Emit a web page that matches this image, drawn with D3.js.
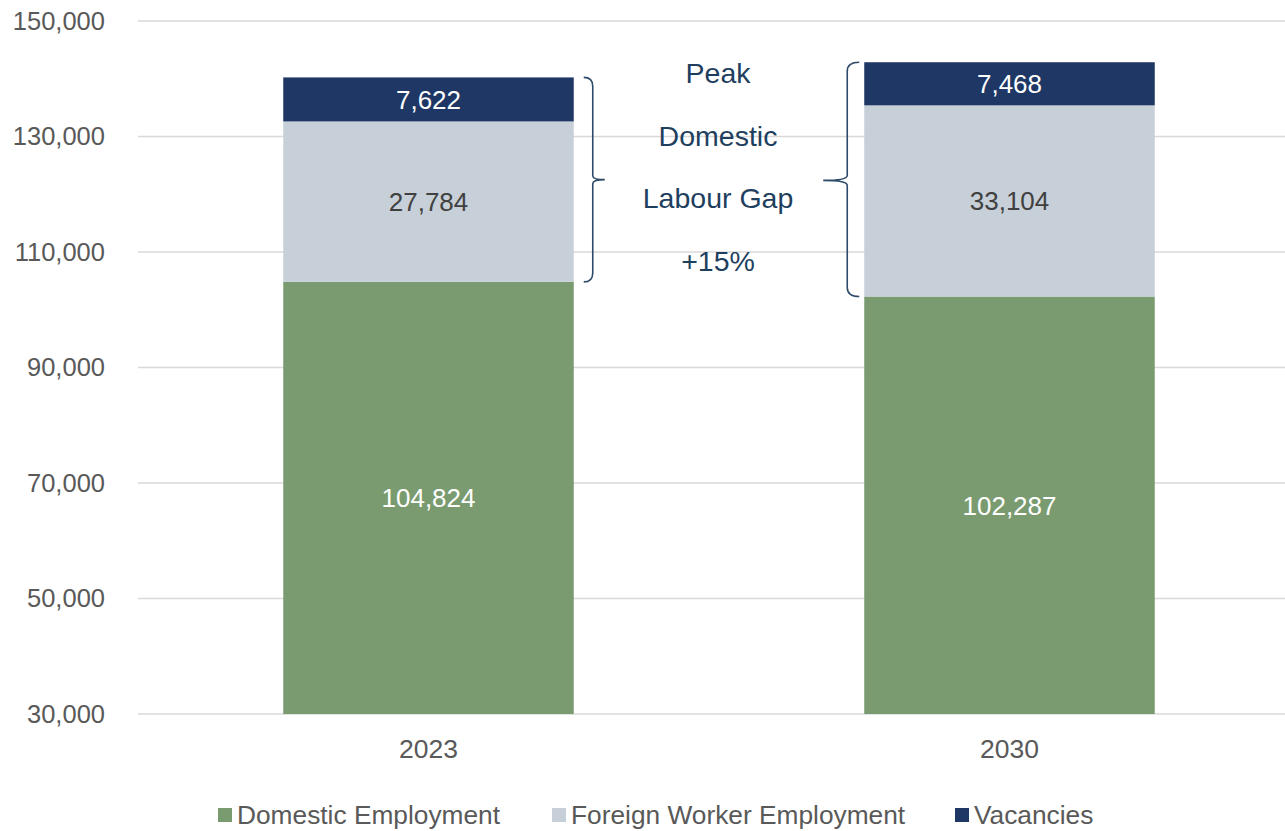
<!DOCTYPE html>
<html><head><meta charset="utf-8">
<script src="https://cdn.jsdelivr.net/npm/d3@7"></script>
<style>body{margin:0;background:#fff}svg{display:block;font-family:"Liberation Sans",Arial,sans-serif}</style>
</head><body>
<svg id="c" width="1285" height="831"></svg>
<script>
const categories = ["2023", "2030"];
const seriesNames = ["Domestic Employment", "Foreign Worker Employment", "Vacancies"];
const domestic = [104824, 102287];
const foreign = [27784, 33104];
const vacancies = [7622, 7468];
const yTicks = [30000, 50000, 70000, 90000, 110000, 130000, 150000];
const annotationLines = ["Peak", "Domestic", "Labour Gap", "+15%"];

const colors = ["#7a9b6f", "#c7d0d8", "#1e3764"];
const labelColors = ["#ffffff", "#404040", "#ffffff"];
const W = 1285, H = 831;
const svg = d3.select("#c");

const x = d3.scaleBand().domain(categories).range([138, 1300]).paddingInner(0.5).paddingOuter(0.25);
const y = d3.scaleLinear().domain([30000, 150000]).range([714, 21]);

// gridlines
svg.append("g").selectAll("line").data(yTicks).join("line")
  .attr("x1", 138).attr("x2", W).attr("y1", d => y(d)).attr("y2", d => y(d))
  .attr("stroke", "#d9d9d9").attr("stroke-width", 1.5);

// y axis labels
const yAxis = d3.axisLeft(y).tickValues(yTicks).tickFormat(d3.format(",")).tickSize(0).tickPadding(0);
const ya = svg.append("g").attr("transform", "translate(105,0)").call(yAxis);
ya.select(".domain").remove();
ya.selectAll("text").attr("font-size", 25.5).attr("fill", "#595959").attr("font-family", "Liberation Sans, Arial, sans-serif");

// stack
const rows = categories.map((c, i) => ({cat: c, d: domestic[i], f: foreign[i], v: vacancies[i]}));
const stack = d3.stack().keys(["d", "f", "v"])(rows);
stack.forEach((layer, li) => {
  const g = svg.append("g");
  g.selectAll("rect").data(layer).join("rect")
    .attr("x", d => x(d.data.cat)).attr("width", x.bandwidth())
    .attr("y", d => y(d[1]))
    .attr("height", d => y(Math.max(d[0], 30000)) - y(d[1]))
    .attr("fill", colors[li]);
  g.selectAll("text").data(layer).join("text")
    .attr("x", d => x(d.data.cat) + x.bandwidth() / 2)
    .attr("y", d => (y(Math.max(d[0], 30000)) + y(d[1])) / 2)
    .attr("dy", "0.36em").attr("text-anchor", "middle")
    .attr("font-size", 26).attr("fill", labelColors[li])
    .text(d => d3.format(",")(d[1] - d[0]));
});

// x axis labels
const xAxis = d3.axisBottom(x).tickSize(0).tickPadding(0);
const xa = svg.append("g").attr("transform", "translate(0,758)").call(xAxis);
xa.select(".domain").remove();
xa.selectAll("text").attr("font-size", 26.5).attr("fill", "#595959").attr("dy", "0").attr("font-family", "Liberation Sans, Arial, sans-serif");

// braces
const bc = "#2d4b69";
const top0 = y(domestic[0] + foreign[0] + vacancies[0]) , bot0 = y(domestic[0]);
const bx0 = x("2023") + x.bandwidth() + 19;
const mid0 = (top0 + bot0) / 2;
svg.append("path").attr("fill", "none").attr("stroke", bc).attr("stroke-width", 1.6)
  .attr("d", `M${bx0-9},${top0} Q${bx0},${top0} ${bx0},${top0+9} L${bx0},${mid0-4} Q${bx0},${mid0} ${bx0+12},${mid0} Q${bx0},${mid0} ${bx0},${mid0+4} L${bx0},${bot0-9} Q${bx0},${bot0} ${bx0-9},${bot0}`);
const top1 = y(domestic[1] + foreign[1] + vacancies[1]), bot1 = y(domestic[1]);
const bx1 = x("2030") - 17;
const mid1 = (top1 + bot1) / 2 + 1;
svg.append("path").attr("fill", "none").attr("stroke", bc).attr("stroke-width", 1.6)
  .attr("d", `M${bx1+12},${top1} Q${bx1},${top1} ${bx1},${top1+9} L${bx1},${mid1-5} Q${bx1},${mid1} ${bx1-24},${mid1} Q${bx1},${mid1} ${bx1},${mid1+5} L${bx1},${bot1-9} Q${bx1},${bot1} ${bx1+12},${bot1}`);

// annotation
svg.append("g").selectAll("text").data(annotationLines).join("text")
  .attr("x", 718).attr("y", (d, i) => 73 + i * 62.5).attr("dy", "0.36em")
  .attr("text-anchor", "middle").attr("font-size", 28.5).attr("fill", "#1f3f5f")
  .text(d => d);

// legend
const legX = [218, 552, 955];
const lg = svg.append("g").selectAll("g").data(seriesNames).join("g")
  .attr("transform", (d, i) => `translate(${legX[i]},815)`);
lg.append("rect").attr("x", 0).attr("y", -7).attr("width", 14).attr("height", 14).attr("fill", (d, i) => colors[i]);
lg.append("text").attr("x", 19).attr("dy", "0.36em").attr("font-size", 26.3).attr("fill", "#595959").text(d => d);
</script>
</body></html>
